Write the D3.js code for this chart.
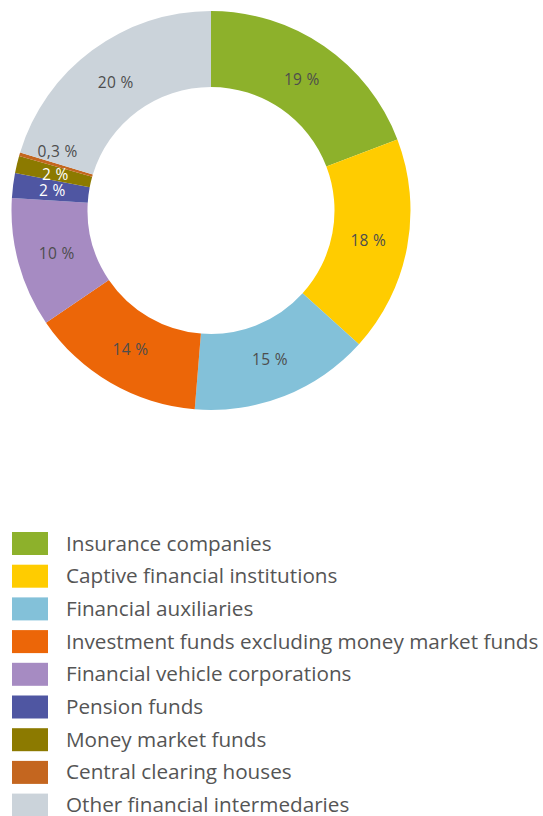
<!DOCTYPE html>
<html>
<head>
<meta charset="utf-8">
<script src="https://cdn.jsdelivr.net/npm/d3@7"></script>
<style>
  body { margin: 0; background: #fff; }
  text { font-family: "Open Sans", "Noto Sans", sans-serif; }
</style>
</head>
<body>
<div id="chart"></div>
<script>
// data
const categories = [
    "Insurance companies",
    "Captive financial institutions",
    "Financial auxiliaries",
    "Investment funds excluding money market funds",
    "Financial vehicle corporations",
    "Pension funds",
    "Money market funds",
    "Central clearing houses",
    "Other financial intermedaries"
];
const values = [19.2, 17.5, 14.6, 14.2, 10.5, 2.0, 1.4, 0.3, 20.3];
const valueLabels = ["19 %", "18 %", "15 %", "14 %", "10 %", "2 %", "2 %", "0,3 %", "20 %"];
const colors = ["#8db12b", "#ffcc00", "#83c1d9", "#ec6608", "#a68bc2", "#4f56a2", "#8c7a00", "#c4661f", "#cbd3da"];
const whiteLabel = [false, false, false, false, false, true, true, false, false];

const width = 543, height = 816;
const cx = 211, cy = 210.5;
const outerR = 199.5, innerR = 123.5;

const svg = d3.select('#chart')
    .append('svg')
    .attr('width', width)
    .attr('height', height);

const data = categories.map((c, i) => ({ name: c, value: values[i], label: valueLabels[i], color: colors[i], white: whiteLabel[i] }));

const pie = d3.pie().sort(null).value(d => d.value);
const arc = d3.arc().innerRadius(innerR).outerRadius(outerR);
const labelArc = d3.arc().innerRadius(160).outerRadius(160);

const g = svg.append('g').attr('transform', `translate(${cx},${cy})`);

const arcs = pie(data);

g.selectAll('path')
    .data(arcs)
    .enter()
    .append('path')
    .attr('d', arc)
    .attr('fill', d => d.data.color);

// percentage labels
g.selectAll('text.val')
    .data(arcs)
    .enter()
    .append('text')
    .attr('class', 'val')
    .attr('transform', d => {
        const [x, y] = labelArc.centroid(d);
        const shift = d.data.value < 1 ? -14 : 0; // tiny slice label sits above its slice
        return `translate(${x},${y + shift})`;
    })
    .attr('text-anchor', 'middle')
    .attr('dominant-baseline', 'central')
    .attr('font-size', 15.5)
    .attr('letter-spacing', 0.3)
    .attr('fill', d => d.data.white ? '#ffffff' : '#4d4d4d')
    .text(d => d.data.label);

// legend
const legendTop = 532, rowH = 32.7;
const legend = svg.append('g');

const rows = legend.selectAll('g')
    .data(data)
    .enter()
    .append('g')
    .attr('transform', (d, i) => `translate(12,${legendTop + i * rowH})`);

rows.append('rect')
    .attr('width', 36)
    .attr('height', 23)
    .attr('fill', d => d.color);

rows.append('text')
    .attr('x', 54)
    .attr('y', 18.5)
    .attr('font-size', 20.7)
    .attr('fill', '#555')
    .text(d => d.name);
</script>
</body>
</html>
